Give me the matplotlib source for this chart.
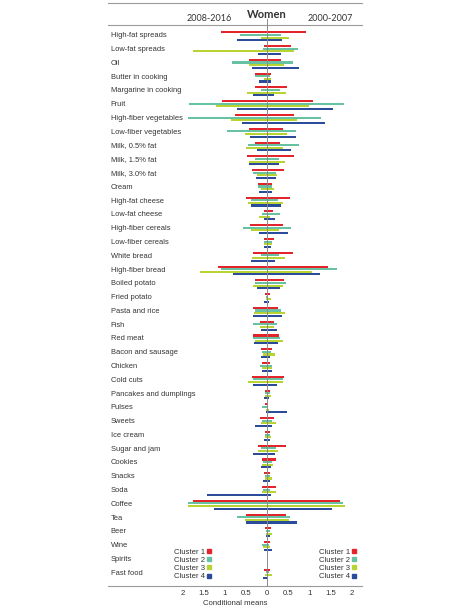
import matplotlib.pyplot as plt
from matplotlib.lines import Line2D
import numpy as np

plt.rcParams['font.family'] = ['Liberation Sans', 'DejaVu Sans']

foods = ['High-fat spreads', 'Low-fat spreads', 'Oil', 'Butter in cooking', 'Margarine in cooking',
         'Fruit', 'High-fiber vegetables', 'Low-fiber vegetables', 'Milk, 0.5% fat', 'Milk, 1.5% fat',
         'Milk, 3.0% fat', 'Cream', 'High-fat cheese', 'Low-fat cheese', 'High-fiber cereals',
         'Low-fiber cereals', 'White bread', 'High-fiber bread', 'Boiled potato', 'Fried potato',
         'Pasta and rice', 'Fish', 'Red meat', 'Bacon and sausage', 'Chicken', 'Cold cuts',
         'Pancakes and dumplings', 'Pulses', 'Sweets', 'Ice cream', 'Sugar and jam', 'Cookies',
         'Snacks', 'Soda', 'Coffee', 'Tea', 'Beer', 'Wine', 'Spirits', 'Fast food']

# conditional means, 2008-2016 (left side)
c1_late = [1.09, 0.06, 0.43, 0.28, 0.28, 1.06, 0.75, 0.43, 0.28, 0.47, 0.36, 0.21, 0.49, 0.07, 0.40,
           0.08, 0.32, 1.16, 0.28, 0.05, 0.33, 0.17, 0.32, 0.14, 0.11, 0.35, 0.05, 0.04, 0.17, 0.05,
           0.21, 0.12, 0.07, 0.11, 1.76, 0.49, 0.04, 0.06, 0.01, 0.08]
c2_late = [0.63, 0.09, 0.83, 0.28, 0.14, 1.84, 1.87, 0.94, 0.44, 0.28, 0.32, 0.21, 0.38, 0.13, 0.56,
           0.06, 0.14, 1.10, 0.29, 0.02, 0.29, 0.32, 0.33, 0.11, 0.17, 0.32, 0.04, 0.11, 0.11, 0.04,
           0.14, 0.09, 0.05, 0.09, 1.88, 0.72, 0.03, 0.11, 0.01, 0.03]
c3_late = [0.14, 1.76, 0.43, 0.08, 0.47, 1.20, 0.86, 0.51, 0.49, 0.42, 0.24, 0.14, 0.46, 0.20, 0.38,
           0.06, 0.36, 1.59, 0.32, 0.02, 0.30, 0.17, 0.29, 0.10, 0.11, 0.46, 0.05, 0.02, 0.14, 0.05,
           0.22, 0.11, 0.05, 0.12, 1.87, 0.51, 0.03, 0.09, 0.01, 0.05]
c4_late = [0.71, 0.21, 0.35, 0.18, 0.34, 0.70, 0.60, 0.41, 0.24, 0.43, 0.27, 0.18, 0.39, 0.08, 0.18,
           0.08, 0.39, 0.80, 0.23, 0.08, 0.34, 0.14, 0.30, 0.14, 0.11, 0.32, 0.06, 0.02, 0.29, 0.06,
           0.32, 0.14, 0.10, 1.43, 1.26, 0.49, 0.02, 0.06, 0.01, 0.09]

# conditional means, 2000-2007 (right side)
c1_early = [0.92, 0.57, 0.32, 0.09, 0.48, 1.08, 0.64, 0.39, 0.30, 0.65, 0.41, 0.13, 0.54, 0.14, 0.38,
            0.17, 0.62, 1.44, 0.40, 0.06, 0.27, 0.16, 0.28, 0.13, 0.07, 0.40, 0.07, 0.03, 0.17, 0.08,
            0.44, 0.21, 0.06, 0.21, 1.72, 0.44, 0.09, 0.06, 0.01, 0.08]
c2_early = [0.33, 0.73, 0.61, 0.06, 0.31, 1.82, 1.27, 0.68, 0.77, 0.29, 0.21, 0.11, 0.26, 0.30, 0.56,
            0.13, 0.29, 1.66, 0.44, 0.03, 0.33, 0.23, 0.31, 0.10, 0.11, 0.39, 0.06, 0.02, 0.13, 0.06,
            0.21, 0.13, 0.06, 0.06, 1.79, 0.54, 0.06, 0.05, 0.01, 0.04]
c3_early = [0.51, 0.63, 0.41, 0.10, 0.44, 0.99, 0.70, 0.47, 0.37, 0.43, 0.24, 0.17, 0.39, 0.07, 0.28,
            0.13, 0.43, 1.06, 0.39, 0.09, 0.43, 0.17, 0.37, 0.18, 0.11, 0.37, 0.09, 0.04, 0.22, 0.09,
            0.25, 0.15, 0.12, 0.22, 1.86, 0.51, 0.11, 0.08, 0.01, 0.13]
c4_early = [0.36, 0.33, 0.77, 0.10, 0.16, 1.56, 1.37, 0.68, 0.57, 0.28, 0.21, 0.13, 0.32, 0.19, 0.50,
            0.09, 0.19, 1.26, 0.30, 0.04, 0.36, 0.24, 0.26, 0.08, 0.13, 0.24, 0.04, 0.47, 0.13, 0.06,
            0.20, 0.09, 0.07, 0.10, 1.53, 0.72, 0.06, 0.11, 0.01, 0.02]

clusters = ['Cluster 1', 'Cluster 2', 'Cluster 3', 'Cluster 4']
colors = ['#e3242b', '#66c2a0', '#b8d433', '#2b4c9b']
late = [c1_late, c2_late, c3_late, c4_late]
early = [c1_early, c2_early, c3_early, c4_early]

W, H = 477, 606
x0 = 108  # left edge of the panel, px
fig = plt.figure(figsize=(W / 100, H / 100), dpi=100)
ax = fig.add_axes([x0 / W, 1 - 586 / H, (362 - x0) / W, (586 - 25) / H])

y = np.arange(len(foods))
offsets = [-0.25, -0.06, 0.13, 0.32]
for k in range(4):
    lv = np.array(late[k])
    rv = np.array(early[k])
    ax.barh(y + offsets[k], lv + rv, left=-lv, height=0.15, color=colors[k], linewidth=0)

# 42.2 px per unit, zero at x=267 px
ax.set_xlim((x0 - 267) / 42.2, (362 - 267) / 42.2)
ax.set_ylim(39.93, -0.78)

for i, f in enumerate(foods):
    ax.text(-3.70, i, f, fontsize=5.4, va='center', ha='left', color='#333333')

ax.axvline(0, color='#8a8a8a', lw=0.7, ymax=1.01, clip_on=False, zorder=5)

for s in ['left', 'right']:
    ax.spines[s].set_visible(False)
ax.spines['top'].set_color('#9a9a9a')
ax.spines['bottom'].set_color('#9a9a9a')
ax.spines['top'].set_linewidth(0.8)
ax.spines['bottom'].set_linewidth(0.8)

# outer top rule
fig.add_artist(Line2D([x0 / W, 362 / W], [1 - 3.3 / H, 1 - 3.3 / H], color='#9a9a9a', lw=0.8))

ticks = [-2, -1.5, -1, -0.5, 0, 0.5, 1, 1.5, 2]
ax.set_xticks(ticks)
ax.set_xticklabels(['%g' % abs(t) for t in ticks], fontsize=5.6, color='#333333')
ax.tick_params(axis='x', length=0, pad=3)
ax.set_yticks([])
ax.set_xlabel('Conditional means', fontsize=5.6, color='#333333', labelpad=2)

ax.text(0, -1.57, 'Women', fontsize=8, fontweight='bold', ha='center', va='center',
        family=['Lato', 'DejaVu Sans'], color='#333333')
ax.text(-1.37, -1.27, '2008-2016', fontsize=6.5, ha='center', va='center',
        family=['Lato', 'DejaVu Sans'], color='#333333')
ax.text(1.51, -1.27, '2000-2007', fontsize=6.5, ha='center', va='center',
        family=['Lato', 'DejaVu Sans'], color='#333333')

handles = [Line2D([], [], marker='s', ls='', color=c, markersize=3.2) for c in colors]
leg1 = ax.legend(handles, clusters, loc='center right', bbox_to_anchor=(-1.22, 38.35),
                 bbox_transform=ax.transData, markerfirst=False, frameon=False, fontsize=5.6,
                 handlelength=0.6, handletextpad=0.3, labelspacing=0.1, borderpad=0)
for t in leg1.get_texts():
    t.set_color('#333333')
ax.add_artist(leg1)
leg2 = ax.legend(handles, clusters, loc='center right', bbox_to_anchor=(2.22, 38.35),
                 bbox_transform=ax.transData, markerfirst=False, frameon=False, fontsize=5.6,
                 handlelength=0.6, handletextpad=0.3, labelspacing=0.1, borderpad=0)
for t in leg2.get_texts():
    t.set_color('#333333')

fig.savefig('out.png', dpi=100)
